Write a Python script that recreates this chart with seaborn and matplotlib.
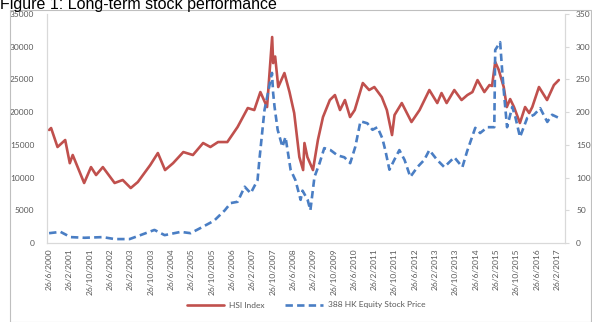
import matplotlib
matplotlib.use("Agg")
import matplotlib.pyplot as plt
from matplotlib.patches import Rectangle
import pandas as pd
import seaborn as sns

# HSI index level (left axis)
hsi_dates = ["2000-06-26", "2000-07-20", "2000-10-05", "2001-01-05", "2001-03-01", "2001-04-05",
             "2001-08-20", "2001-11-10", "2002-01-10", "2002-04-01", "2002-08-20", "2002-11-25",
             "2003-03-01", "2003-05-25", "2003-10-20", "2004-01-20", "2004-04-15", "2004-07-20",
             "2004-11-20", "2005-03-15", "2005-07-15", "2005-10-10", "2006-01-10", "2006-05-01",
             "2006-09-01", "2007-01-01", "2007-03-20", "2007-06-01", "2007-08-20", "2007-10-20",
             "2007-11-01", "2007-11-25", "2008-01-01", "2008-03-15", "2008-05-15", "2008-07-10",
             "2008-09-10", "2008-10-25", "2008-11-10", "2008-12-15", "2009-02-20", "2009-04-20",
             "2009-06-20", "2009-09-10", "2009-11-10", "2010-01-10", "2010-03-10", "2010-05-10",
             "2010-07-05", "2010-10-10", "2010-12-25", "2011-02-25", "2011-05-25", "2011-07-25",
             "2011-09-25", "2011-10-25", "2012-01-20", "2012-05-15", "2012-08-20", "2012-12-15",
             "2013-03-20", "2013-05-10", "2013-07-10", "2013-10-10", "2014-01-05", "2014-03-15",
             "2014-05-15", "2014-07-15", "2014-10-05", "2014-12-05", "2015-01-05", "2015-02-12",
             "2015-03-25", "2015-05-25", "2015-07-01", "2015-08-10", "2015-09-25", "2015-12-05",
             "2016-02-05", "2016-03-25", "2016-05-01", "2016-07-20", "2016-10-25", "2017-01-15",
             "2017-03-15"]
hsi_values = [17270, 17570, 14670, 15740, 12200, 13450,
              9170, 11600, 10390, 11600, 9170, 9630,
              8400, 9320, 11900, 13750, 11150, 12200,
              13900, 13450, 15280, 14670, 15430, 15430,
              17730, 20630, 20320, 23070, 20780, 31480,
              27500, 28500, 23840, 25980, 23070, 19860,
              13140, 11150, 15280, 13140, 11150, 15740,
              19250, 21850, 22610, 20320, 21850, 19250,
              20320, 24450, 23380, 23840, 22300, 20320,
              16500, 19560, 21390, 18490, 20320, 23380,
              21390, 22920, 21390, 23380, 21850, 22610,
              23070, 24900, 23070, 24140, 24000, 27660,
              26500, 23840, 20780, 22000, 20780, 18340,
              20780, 19860, 20780, 23840, 21850, 24140,
              24910]

# 388 HK share price (right axis)
hkex_dates = ["2000-06-26", "2000-11-10", "2001-03-10", "2001-08-25", "2002-04-01", "2002-08-20",
              "2003-02-15", "2003-06-25", "2003-12-10", "2004-04-10", "2004-10-20", "2005-02-15",
              "2005-06-15", "2005-10-10", "2005-12-01", "2006-04-01", "2006-06-10", "2006-09-01",
              "2006-11-25", "2007-02-05", "2007-04-28", "2007-05-20", "2007-07-20", "2007-10-18",
              "2007-11-01", "2007-11-18", "2007-12-25", "2008-02-20", "2008-03-28", "2008-05-28",
              "2008-07-25", "2008-09-25", "2008-10-18", "2008-12-18", "2009-01-20", "2009-03-10",
              "2009-05-10", "2009-07-05", "2009-09-18", "2009-12-10", "2010-03-03", "2010-05-12",
              "2010-07-12", "2010-09-12", "2010-12-03", "2011-02-03", "2011-04-03", "2011-06-01",
              "2011-07-06", "2011-08-25", "2011-10-22", "2011-12-22", "2012-02-22", "2012-05-01",
              "2012-07-25", "2012-10-15", "2012-12-15", "2013-03-18", "2013-06-12", "2013-10-10",
              "2014-01-15", "2014-03-12", "2014-06-18", "2014-08-15", "2014-11-10", "2015-02-01",
              "2015-02-12", "2015-04-12", "2015-05-06", "2015-06-01", "2015-07-04", "2015-09-04",
              "2015-10-10", "2015-12-06", "2016-03-01", "2016-05-22", "2016-08-04", "2016-10-28",
              "2016-12-25", "2017-03-18"]
hkex_values = [15, 17, 9, 8, 9, 6,
               6, 12, 20, 12, 17, 15,
               23, 31, 35, 50, 61, 63,
               86, 76, 96, 127, 203, 260,
               229, 208, 173, 147, 162, 112,
               96, 66, 80, 66, 50, 101,
               122, 145, 142, 134, 131, 122,
               147, 186, 183, 173, 177, 160,
               142, 112, 127, 142, 127, 101,
               116, 127, 142, 127, 116, 131,
               116, 140, 176, 168, 177, 177,
               295, 307, 264, 223, 177, 208,
               193, 162, 191, 196, 206, 185,
               196, 191]

left_ticks = [0, 5000, 10000, 15000, 20000, 25000, 30000, 35000]
right_ticks = [0, 50, 100, 150, 200, 250, 300, 350]
# one date label every eight months, on the 26th
tick_dates = pd.date_range("2000-06-01", periods=26, freq="8MS") + pd.Timedelta(days=25)

hsi = pd.DataFrame({"date": pd.to_datetime(hsi_dates), "value": hsi_values})
hkex = pd.DataFrame({"date": pd.to_datetime(hkex_dates), "value": hkex_values})

sns.set_theme(style="white")
plt.rcParams["font.family"] = ["Lato", "DejaVu Sans"]

RED = "#C0504D"
BLUE = "#4A7EC4"
GREY_TXT = "#595959"
GREY_LINE = "#D9D9D9"

fig = plt.figure(figsize=(5.92, 3.22), dpi=100)
fig.patches.append(Rectangle((10 / 592, 0.0), 581 / 592, 1 - 10 / 322,
                             transform=fig.transFigure, fill=False,
                             edgecolor="#BFBFBF", linewidth=0.8))
fig.text(0.0, 1 - 9 / 322, "Figure 1: Long-term stock performance",
         family=["Liberation Sans", "DejaVu Sans"], fontsize=11.5, color="black",
         ha="left", va="baseline")

ax = fig.add_axes([47 / 592, 1 - 243 / 322, 518 / 592, 229 / 322])
ax2 = ax.twinx()

sns.lineplot(data=hsi, x="date", y="value", ax=ax, color=RED, linewidth=1.9,
             label="HSI Index", legend=False)
sns.lineplot(data=hkex, x="date", y="value", ax=ax2, color=BLUE, linewidth=1.9,
             linestyle=(0, (2.8, 1.6)), label="388 HK Equity Stock Price", legend=False)

ax.set_xlim(pd.Timestamp("2000-06-01"), pd.Timestamp("2017-05-28"))
ax.set_ylim(0, 35000)
ax2.set_ylim(0, 350)
ax.set_yticks(left_ticks)
ax.set_yticklabels([str(v) for v in left_ticks])
ax2.set_yticks(right_ticks)
ax2.set_yticklabels([str(v) for v in right_ticks])
ax.set_xticks(tick_dates)
ax.set_xticklabels([f"{d.day}/{d.month}/{d.year}" for d in tick_dates], rotation=90)

for a in (ax, ax2):
    a.set_xlabel("")
    a.set_ylabel("")
    for s in a.spines.values():
        s.set_visible(False)
ax.spines["left"].set_visible(True)
ax.spines["bottom"].set_visible(True)
ax2.spines["right"].set_visible(True)
for s in (ax.spines["left"], ax.spines["bottom"], ax2.spines["right"]):
    s.set_color(GREY_LINE)
    s.set_linewidth(0.9)

ax.tick_params(axis="y", length=0, pad=9, labelsize=6, labelcolor=GREY_TXT)
ax.tick_params(axis="x", length=0, pad=4, labelsize=6, labelcolor=GREY_TXT)
ax2.tick_params(axis="y", length=3, width=0.8, color=GREY_LINE, pad=5,
                labelsize=6, labelcolor=GREY_TXT)

handles = ax.get_lines()[:1] + ax2.get_lines()[:1]
fig.legend(handles, ["HSI Index", "388 HK Equity Stock Price"],
           loc="center", bbox_to_anchor=(306 / 592, 1 - 305 / 322), ncol=2,
           frameon=False, fontsize=6, labelcolor=GREY_TXT, handlelength=4.5,
           columnspacing=2.5, handletextpad=0.6)

fig.savefig("out.png", dpi=100)
